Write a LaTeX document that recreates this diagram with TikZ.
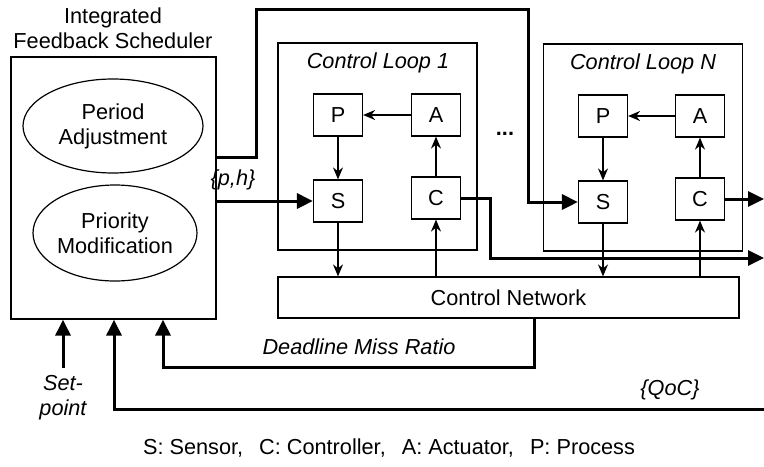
\documentclass[tikz,border=0pt]{standalone}
\usepackage{fontspec}
\setmainfont{Liberation Sans}
\usetikzlibrary{calc,positioning,arrows.meta,shapes.geometric}

\tikzset{
  blk/.style={draw,line width=0.6pt,minimum width=24.5pt,minimum height=21pt,inner sep=0pt},
  loopbox/.style={draw,line width=0.6pt,minimum width=99.5pt,minimum height=103.5pt},
  oval/.style={draw,ellipse,line width=0.6pt,align=center,inner sep=0pt},
  thinarr/.style={line width=0.65pt,-{Stealth[length=6pt,width=5pt]}},
  thickarr/.style={line width=1.5pt,-{Triangle[length=8pt,width=7.5pt]}},
  lbl/.style={font=\fontsize{10.85}{12.6}\selectfont\itshape,inner sep=1pt}
}

\begin{document}
\begin{tikzpicture}[x=0.5pt,y=-0.5pt,font=\fontsize{10.85}{12.6}\selectfont]
  \useasboundingbox (0,0) rectangle (764,466);

  \node[align=center] (schedlbl) at (113,28) {Integrated\\Feedback Scheduler};
  \node[draw,line width=0.6pt,minimum width=102.5pt,minimum height=131pt] (sched) at (113.5,188) {};
  \node[oval,minimum width=90pt,minimum height=47pt] (period) at (113,126) {Period\\Adjustment};
  \node[oval,minimum width=82pt,minimum height=48pt] (prio) at (115,233) {Priority\\Modification};

  \node[loopbox] (loop1) at (377.5,146.5) {};
  \node[lbl] (loop1lbl) at (378,63) {Control Loop 1};
  \node[blk] (P1) at (338,115) {P};
  \node[blk] (A1) at (436,115) {A};
  \node[blk] (S1) at (338,201) {S};
  \node[blk] (C1) at (436,198) {C};

  \node (dots) at (505,134) {\textbf{...}};

  \node[loopbox] (loopN) at (643,147.5) {};
  \node[lbl] (loopNlbl) at (643,64) {Control Loop N};
  \node[blk] (PN) at (603,116) {P};
  \node[blk] (AN) at (700,116) {A};
  \node[blk] (SN) at (603,202) {S};
  \node[blk] (CN) at (700,199) {C};

  \node[draw,line width=0.6pt,minimum width=230.5pt,minimum height=20.5pt] (net) at (508.5,297.5) {Control Network};

  % loops
  \foreach \k in {1,N}{
    \draw[thinarr] (A\k) -- (P\k);
    \draw[thinarr] (P\k) -- (S\k);
    \draw[thinarr] (C\k) -- (A\k);
    \draw[thinarr] (S\k) -- (S\k |- net.north);
    \draw[thinarr] (C\k |- net.north) -- (C\k);
  }

  % scheduler outputs
  \coordinate (up1) at (256,157);
  \coordinate (up2) at (256,9);
  \coordinate (up3) at (528,9);
  \draw[thickarr] (sched.east |- up1) -- (up1) -- (up2) -- (up3) |- (SN.west);
  \draw[thickarr] (sched.east |- S1) -- (S1.west);
  \node[lbl] (phlbl) at (233,180) {\{p,h\}};

  % plant outputs
  \coordinate (bend1) at (490,258);
  \coordinate (out1) at (764,258);
  \coordinate (outN) at (764,199);
  \draw[thickarr] (C1.east) -| (bend1) -- (out1);
  \draw[thickarr] (CN.east) -- (outN);

  % feedback
  \coordinate (dmr) at (534,367);
  \coordinate (dml) at (163,367);
  \draw[thickarr] (net.south -| dmr) -- (dmr) -- (dml) -- (sched.south -| dml);
  \node[lbl] (dmlbl) at (359,347) {Deadline Miss Ratio};

  \coordinate (qocr) at (764,409);
  \coordinate (qocl) at (114,409);
  \draw[thickarr] (qocr) -- (qocl) -- (sched.south -| qocl);
  \node[lbl] (qoclbl) at (670,390) {\{QoC\}};

  \coordinate (sp) at (63,368);
  \draw[thickarr] (sp) -- (sched.south -| sp);
  \node[lbl,align=center] (splbl) at (63,398) {Set-\\point};

  \node (legend) at (389,448) {S: Sensor,\hspace{5pt} C: Controller,\hspace{5pt} A: Actuator,\hspace{5pt} P: Process};
\end{tikzpicture}
\end{document}
